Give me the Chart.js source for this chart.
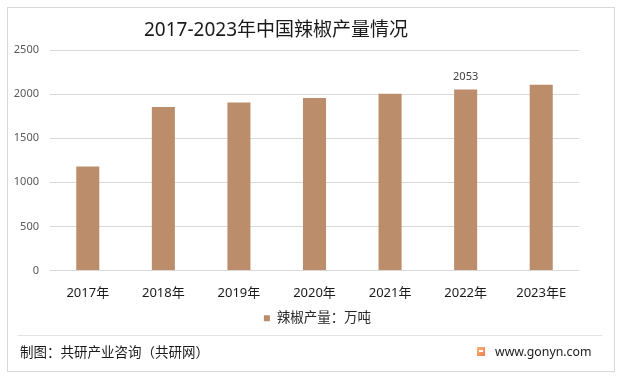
<!DOCTYPE html>
<html>
<head>
<meta charset="utf-8">
<script src="https://cdn.jsdelivr.net/npm/chart.js@4"></script>
<style>
  html, body { margin: 0; padding: 0; background: #ffffff; }
  #wrap { position: relative; width: 623px; height: 378px; overflow: hidden; background: #fff; }
  #frame { position: absolute; left: 7px; top: 7px; width: 606px; height: 363px; border: 1px solid #d9d9d9; box-sizing: content-box; }
  #sep { position: absolute; left: 18px; top: 335px; width: 584px; height: 1px; background: #e3e3e3; }
  #title { position: absolute; left: 0; top: 16px; width: 552px; text-align: center; font: 19px "Noto Sans", "Noto Sans CJK SC", sans-serif; color: #1a1a1a; line-height: 26px; }
  #src { position: absolute; left: 20px; top: 343px; font: 13.5px "Noto Sans", "Noto Sans CJK SC", sans-serif; color: #1a1a1a; line-height: 18px; }
  #site { position: absolute; left: 495px; top: 343px; font: 12.3px "Noto Sans", "Noto Sans CJK SC", sans-serif; color: #1a1a1a; line-height: 18px; }
  #logo { position: absolute; left: 477px; top: 347px; width: 8px; height: 9px; background: linear-gradient(135deg, #f7b77a, #ee7a4e); }
  #logo::after { content: ""; position: absolute; left: 2px; top: 3px; width: 4px; height: 2px; background: #fff; }
  canvas { position: absolute; left: 0; top: 0; }
</style>
</head>
<body>
<div id="wrap">
  <div id="frame"></div>
  <div id="sep"></div>
  <canvas id="c" width="623" height="378"></canvas>
  <div id="title">2017-2023年中国辣椒产量情况</div>
  <div id="src">制图：共研产业咨询（共研网）</div>
  <div id="logo"></div>
  <div id="site">www.gonyn.com</div>
</div>
<script>
const categories = ['2017年', '2018年', '2019年', '2020年', '2021年', '2022年', '2023年E'];
const production = [1178, 1855, 1905, 1957, 2005, 2053, 2105];
const seriesName = '辣椒产量：万吨';
const yMin = 0;
const yMax = 2500;
const yStep = 500;
const labelledIndexes = [5];

const barColor = '#bc8d6b';
const fontFamily = '"Noto Sans", "Noto Sans CJK SC", sans-serif';

const valueLabels = {
  id: 'valueLabels',
  afterDatasetsDraw(chart) {
    const ctx = chart.ctx;
    const meta = chart.getDatasetMeta(0);
    ctx.save();
    ctx.font = '11px ' + fontFamily;
    ctx.fillStyle = '#404040';
    ctx.textAlign = 'center';
    ctx.textBaseline = 'bottom';
    labelledIndexes.forEach(i => {
      const bar = meta.data[i];
      ctx.fillText(String(chart.data.datasets[0].data[i]), bar.x, bar.y - 7);
    });
    ctx.restore();
  }
};

// centre the legend under the plot area rather than the whole canvas
const legendShift = {
  id: 'legendShift',
  afterLayout(chart) {
    const lg = chart.legend;
    if (!lg) return;
    const plotCenter = (chart.chartArea.left + chart.chartArea.right) / 2 + 3;
    const d = plotCenter - (lg.left + lg.right) / 2;
    lg.left += d;
    lg.right += d;
  }
};

new Chart(document.getElementById('c'), {
  type: 'bar',
  data: {
    labels: categories,
    datasets: [{
      label: seriesName,
      data: production,
      backgroundColor: barColor,
      borderWidth: 0,
      categoryPercentage: 1.0,
      barPercentage: 0.305
    }]
  },
  options: {
    responsive: false,
    animation: false,
    devicePixelRatio: 1,
    layout: { padding: { left: 0, right: 44, top: 50, bottom: 43 } },
    plugins: {
      title: { display: false },
      tooltip: { enabled: false },
      legend: {
        display: true,
        position: 'bottom',
        labels: {
          boxWidth: 6,
          boxHeight: 6,
          padding: 8,
          color: '#262626',
          font: { family: fontFamily, size: 13.5 }
        }
      }
    },
    scales: {
      x: {
        grid: { display: false, drawTicks: false },
        border: { display: false },
        ticks: { color: '#1a1a1a', font: { family: fontFamily, size: 13 }, padding: 15, maxRotation: 0 },
        afterFit(scale) { scale.height = 33; }
      },
      y: {
        min: yMin,
        max: yMax,
        ticks: {
          stepSize: yStep,
          color: '#595959',
          font: { family: fontFamily, size: 11 },
          padding: 11,
          callback: (v) => String(v)
        },
        grid: { color: '#d9d9d9', drawTicks: false, lineWidth: 1 },
        border: { display: false },
        afterFit(scale) { scale.width = 50; }
      }
    }
  },
  plugins: [valueLabels, legendShift]
});
</script>
</body>
</html>
